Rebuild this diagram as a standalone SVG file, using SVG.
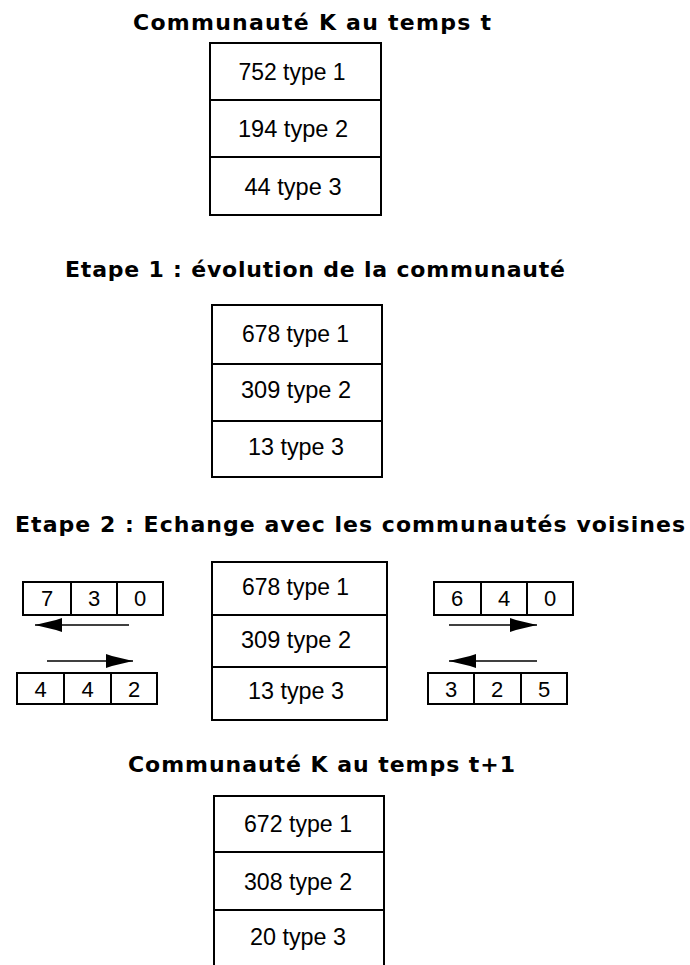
<svg xmlns="http://www.w3.org/2000/svg" width="690" height="965" viewBox="0 0 690 965">
<style>
.bg{fill:#fff}
.box{fill:#fff;stroke:#000;stroke-width:2}
.div{stroke:#000;stroke-width:2}
.title{font-family:"DejaVu Sans","Liberation Sans",Arial,sans-serif;font-weight:bold;font-size:22px;fill:#000}
.cell{font-family:"Liberation Sans",Arial,sans-serif;font-size:23px;fill:#000;text-anchor:middle}
.num{font-family:"Liberation Sans",Arial,sans-serif;font-size:22px;fill:#000;text-anchor:middle}
.arrow{stroke:#000;stroke-width:1.5;fill:none;marker-end:url(#head)}
</style>
<defs>
<marker id="head" viewBox="0 0 27 14" refX="27" refY="7" markerWidth="27" markerHeight="14" markerUnits="userSpaceOnUse" orient="auto">
<path d="M0,0 L6,2 L27,7 L6,12 L0,14 Z" fill="#000"/>
</marker>
</defs>
<rect class="bg" x="0" y="0" width="690" height="965"/>

<g id="titles">
<text class="title" x="133" y="30" textLength="358" lengthAdjust="spacing">Communauté K au temps t</text>
<text class="title" x="65" y="277" textLength="500" lengthAdjust="spacing">Etape 1 : évolution de la communauté</text>
<text class="title" x="15" y="532" textLength="670" lengthAdjust="spacing">Etape 2 : Echange avec les communautés voisines</text>
<text class="title" x="128" y="772" textLength="387" lengthAdjust="spacing">Communauté K au temps t+1</text>
</g>

<g id="community-t">
<rect class="box" x="210" y="43" width="171" height="172"/>
<line class="div" x1="210" y1="100" x2="381" y2="100"/>
<line class="div" x1="210" y1="157" x2="381" y2="157"/>
<text class="cell" x="292" y="80" textLength="107" lengthAdjust="spacingAndGlyphs">752 type 1</text>
<text class="cell" x="293" y="137" textLength="110" lengthAdjust="spacingAndGlyphs">194 type 2</text>
<text class="cell" x="293" y="195" textLength="97" lengthAdjust="spacingAndGlyphs">44 type 3</text>
</g>

<g id="step1">
<rect class="box" x="212" y="305" width="170" height="172"/>
<line class="div" x1="212" y1="364" x2="382" y2="364"/>
<line class="div" x1="212" y1="421" x2="382" y2="421"/>
<text class="cell" x="295.5" y="342" textLength="107" lengthAdjust="spacingAndGlyphs">678 type 1</text>
<text class="cell" x="296" y="398" textLength="110" lengthAdjust="spacingAndGlyphs">309 type 2</text>
<text class="cell" x="296" y="455" textLength="96" lengthAdjust="spacingAndGlyphs">13 type 3</text>
</g>

<g id="step2">
<rect class="box" x="212" y="562" width="175" height="158"/>
<line class="div" x1="212" y1="615" x2="387" y2="615"/>
<line class="div" x1="212" y1="667" x2="387" y2="667"/>
<text class="cell" x="295.5" y="595" textLength="107" lengthAdjust="spacingAndGlyphs">678 type 1</text>
<text class="cell" x="296" y="648" textLength="110" lengthAdjust="spacingAndGlyphs">309 type 2</text>
<text class="cell" x="296" y="699" textLength="96" lengthAdjust="spacingAndGlyphs">13 type 3</text>
</g>

<g id="left-out">
<rect class="box" x="23" y="582" width="140" height="33"/>
<line class="div" x1="71" y1="582" x2="71" y2="615"/>
<line class="div" x1="117" y1="582" x2="117" y2="615"/>
<text class="num" x="47" y="606">7</text>
<text class="num" x="94" y="606">3</text>
<text class="num" x="140" y="606">0</text>
</g>

<g id="left-in">
<rect class="box" x="17" y="673" width="140" height="31"/>
<line class="div" x1="64" y1="673" x2="64" y2="704"/>
<line class="div" x1="111" y1="673" x2="111" y2="704"/>
<text class="num" x="40.5" y="697">4</text>
<text class="num" x="87.5" y="697">4</text>
<text class="num" x="134" y="697">2</text>
</g>

<g id="right-out">
<rect class="box" x="434" y="582" width="139" height="33"/>
<line class="div" x1="481" y1="582" x2="481" y2="615"/>
<line class="div" x1="527" y1="582" x2="527" y2="615"/>
<text class="num" x="457" y="606">6</text>
<text class="num" x="504" y="606">4</text>
<text class="num" x="550" y="606">0</text>
</g>

<g id="right-in">
<rect class="box" x="428" y="673" width="139" height="31"/>
<line class="div" x1="474" y1="673" x2="474" y2="704"/>
<line class="div" x1="521" y1="673" x2="521" y2="704"/>
<text class="num" x="451" y="697">3</text>
<text class="num" x="497" y="697">2</text>
<text class="num" x="544" y="697">5</text>
</g>

<g id="connectors">
<line class="arrow" x1="129" y1="625" x2="35" y2="625"/>
<line class="arrow" x1="47" y1="661" x2="133" y2="661"/>
<line class="arrow" x1="449" y1="625" x2="537" y2="625"/>
<line class="arrow" x1="537" y1="661" x2="449" y2="661"/>
</g>

<g id="community-t1">
<rect class="box" x="214" y="796" width="170" height="175"/>
<line class="div" x1="214" y1="852" x2="384" y2="852"/>
<line class="div" x1="214" y1="910" x2="384" y2="910"/>
<text class="cell" x="298" y="832" textLength="108" lengthAdjust="spacingAndGlyphs">672 type 1</text>
<text class="cell" x="298" y="890" textLength="108" lengthAdjust="spacingAndGlyphs">308 type 2</text>
<text class="cell" x="298" y="945" textLength="96" lengthAdjust="spacingAndGlyphs">20 type 3</text>
</g>
</svg>
